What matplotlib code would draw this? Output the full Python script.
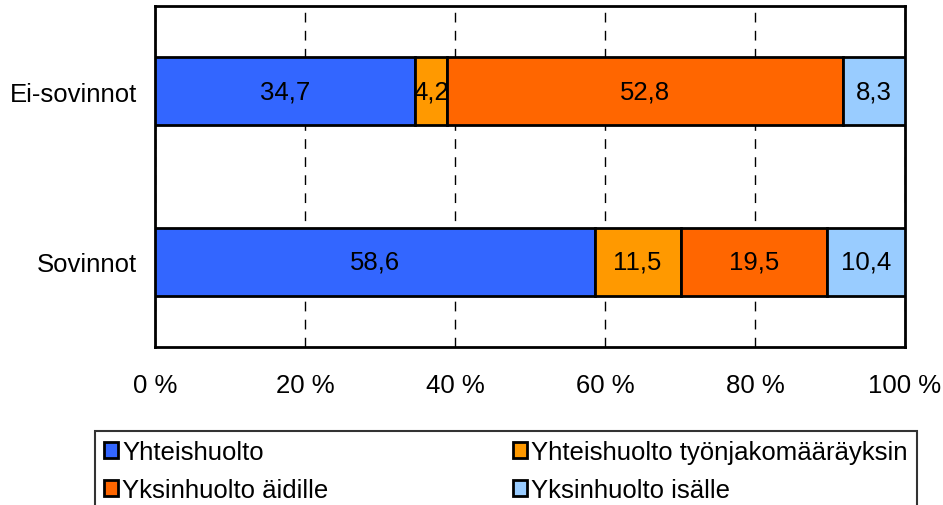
import numpy as np
import matplotlib.pyplot as plt
from matplotlib.patches import Patch

plt.rcParams['font.family'] = ['Liberation Sans', 'DejaVu Sans']

# Dataset
categories = ["Sovinnot", "Ei-sovinnot"]
series = ["Yhteishuolto", "Yhteishuolto työnjakomääräyksin",
          "Yksinhuolto äidille", "Yksinhuolto isälle"]
values = np.array([
    [58.6, 34.7],
    [11.5, 4.2],
    [19.5, 52.8],
    [10.4, 8.3],
])
colors = ["#3366FF", "#FF9900", "#FF6600", "#99CCFF"]
xticks = [0, 20, 40, 60, 80, 100]

fs = 18.5
fig = plt.figure(figsize=(9.43, 5.06), dpi=100)
ax = fig.add_axes([155/943, 158/506, 750/943, 341/506])

y = np.arange(len(categories))
left = np.zeros(len(categories))
for vals, col, name in zip(values, colors, series):
    bars = ax.barh(y, vals, left=left, height=0.4, color=col,
                   edgecolor="black", linewidth=2, label=name, zorder=3)
    for b, v in zip(bars, vals):
        ax.text(b.get_x() + b.get_width()/2, b.get_y() + b.get_height()/2,
                f"{v:.1f}".replace(".", ","), ha="center", va="center",
                fontsize=fs, zorder=4)
    left += vals

ax.set_xlim(0, 100)
ax.set_ylim(-0.5, 1.5)
ax.set_yticks(y)
ax.set_yticklabels(categories, fontsize=fs)
ax.set_xticks(xticks)
ax.set_xticklabels([f"{t} %" for t in xticks], fontsize=fs)
ax.tick_params(axis="y", length=0, pad=13)
ax.tick_params(axis="x", length=0, pad=19)
ax.xaxis.grid(True, linestyle=(0, (7, 6)), color="black", linewidth=1, zorder=0)
for s in ax.spines.values():
    s.set_linewidth(2)
    s.set_color("black")

# row-major order in the legend
order = [0, 2, 1, 3]
handles = [Patch(facecolor=colors[i], edgecolor="black", linewidth=2) for i in order]
labels = [series[i] for i in order]
leg = fig.legend(handles, labels, loc="upper left",
                 bbox_to_anchor=(95/943, 1 - 432/506),
                 ncol=2, fontsize=fs, frameon=True,
                 fancybox=False, borderpad=0.35, labelspacing=0.55,
                 handlelength=0.55, handleheight=0.55, handletextpad=0.15,
                 borderaxespad=0, columnspacing=7.2)
leg.get_frame().set_edgecolor("black")
leg.get_frame().set_linewidth(1.5)

plt.savefig("out.png", dpi=100)
